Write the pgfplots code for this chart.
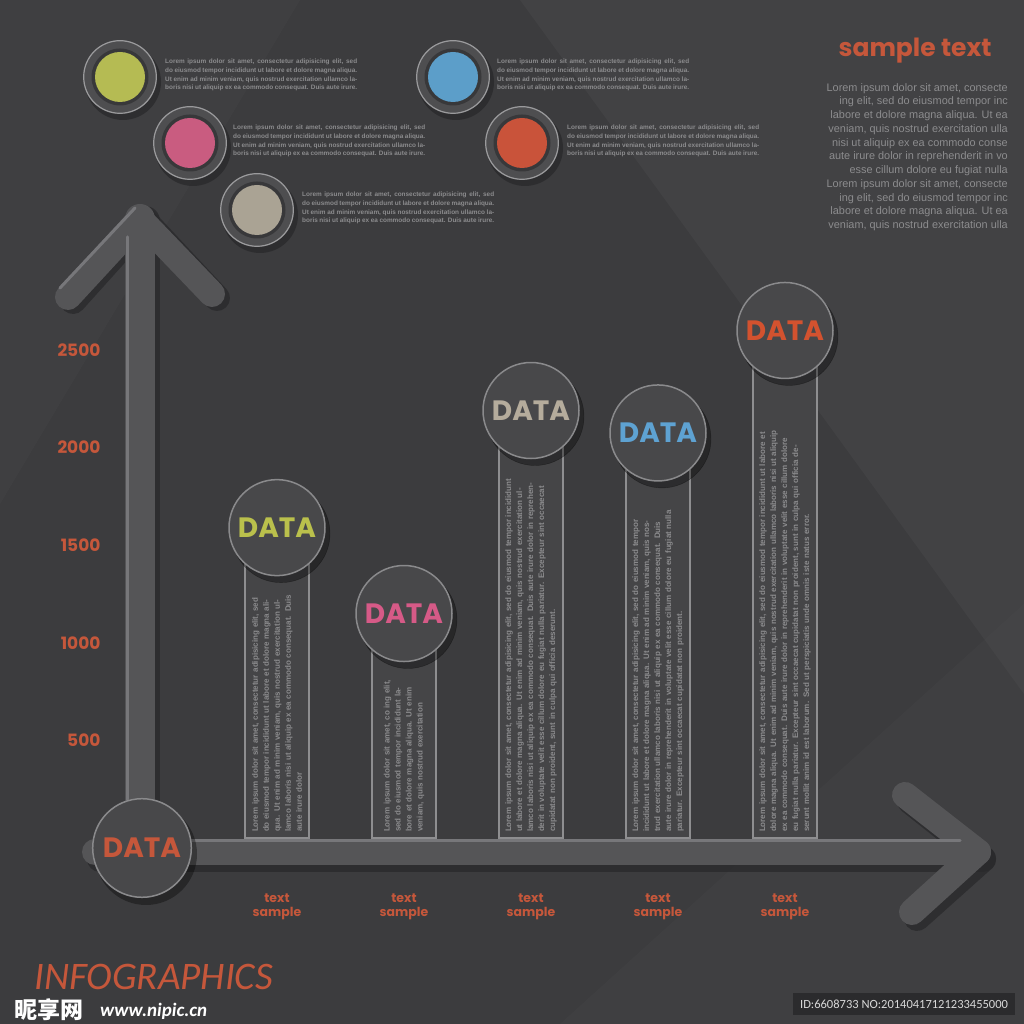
\documentclass[border=0pt]{standalone}
\usepackage{fontspec}
\usepackage{pgfplots}
\pgfplotsset{compat=1.18}
\setmainfont{Liberation Sans}
\newfontfamily\datafont{Poppins}
\newfontfamily\infofont{Carlito}
\newfontfamily\cjk{Noto Sans CJK SC}

\definecolor{bg}{HTML}{3C3C3E}
\definecolor{shadowc}{HTML}{2A2A2C}
\definecolor{armc}{HTML}{555557}
\definecolor{armhi}{HTML}{77777A}
\definecolor{barfill}{HTML}{454547}
\definecolor{barrim}{HTML}{8E8E90}
\definecolor{circfill}{HTML}{48484A}
\definecolor{circrim}{HTML}{8A8A8C}
\definecolor{lorem}{HTML}{8C8C8E}
\definecolor{orangec}{HTML}{C5573B}
\definecolor{cgreen}{HTML}{BAC04C}
\definecolor{cpink}{HTML}{D65A87}
\definecolor{cbeige}{HTML}{B5AC9C}
\definecolor{cblue}{HTML}{5EA2D2}
\definecolor{cred}{HTML}{D3522F}
\definecolor{lgreen}{HTML}{B5BB53}
\definecolor{lpink}{HTML}{C95C80}
\definecolor{lbeige}{HTML}{AAA394}
\definecolor{lblue}{HTML}{5C9EC9}
\definecolor{lred}{HTML}{C9533A}
\definecolor{HTML4e}{HTML}{4E4E50}
\definecolor{HTML9a}{HTML}{9A9A9C}
\definecolor{HTML38}{HTML}{38383A}
\definecolor{HTML2b}{HTML}{2B2B2D}
\definecolor{HTMLd8}{HTML}{D8D8D8}

\newcommand{\legcirc}[3]{%
  \fill[shadowc,opacity=0.8] (#1+3,#2-5) circle (38);
  \fill[HTML4e] (#1,#2) circle (37);
  \draw[HTML9a,line width=1.2pt] (#1,#2) circle (36.3);
  \fill[HTML38] (#1,#2) circle (28.5);
  \fill[#3] (#1,#2) circle (25);
}

\newcommand{\legtext}{Lorem ipsum dolor sit amet, consectetur adipisicing elit, sed do eiusmod tempor incididunt ut labore et dolore magna aliqua. Ut enim ad minim veniam, quis nostrud exercitation ullamco laboris nisi ut aliquip ex ea commodo consequat. Duis aute irure.}

\begin{document}
\begin{tikzpicture}[x=1pt,y=1pt]
\path[use as bounding box] (0,0) rectangle (1024,1024);
\fill[bg] (0,0) rectangle (1024,1024);
\fill[white,opacity=0.03] (520,1024) -- (1024,1024) -- (1024,330) -- cycle;
\fill[white,opacity=0.02] (0,520) -- (0,1024) -- (300,1024) -- cycle;
\fill[white,opacity=0.015] (560,0) -- (1024,0) -- (1024,420) -- cycle;

% legend circles and texts
\legcirc{120}{947}{lgreen}
\legcirc{190}{881}{lpink}
\legcirc{257}{814}{lbeige}
\legcirc{453}{947}{lblue}
\legcirc{522}{881}{lred}
\foreach \lx/\ly in {165/965,233/899,302/832,497/965,567/899}{
  \node[anchor=north west,inner sep=0,text width=192pt,align=justify,text=lorem,
        font=\fontsize{6.4}{8.6}\selectfont\bfseries] at (\lx,\ly) {\legtext};
}

% right paragraph
\node[anchor=center,text=orangec,font=\datafont\bfseries\fontsize{25}{25}\selectfont] at (915,973) {sample text};
\node[anchor=north east,inner sep=0,align=right,text=lorem,
      font=\fontsize{10.9}{13.75}\selectfont] at (1008,941) {%
Lorem ipsum dolor sit amet, consecte\\
ing elit, sed do eiusmod tempor inc\\
labore et dolore magna aliqua. Ut ea\\
veniam, quis nostrud exercitation ulla\\
nisi ut aliquip ex ea commodo conse\\
aute irure dolor in reprehenderit in vo\\
esse cillum dolore eu fugiat nulla\\
Lorem ipsum dolor sit amet, consecte\\
ing elit, sed do eiusmod tempor inc\\
labore et dolore magna aliqua. Ut ea\\
veniam, quis nostrud exercitation ulla};

% axis arrows (shadow, body, highlight)
\begin{scope}[line cap=round,line join=round]
\draw[shadowc,line width=30pt,opacity=0.8] (145,168) -- (145,803);
\draw[shadowc,line width=26pt,opacity=0.8] (73,723) -- (145,803) -- (217,726);
\draw[shadowc,line width=26pt,opacity=0.8] (100,165) -- (983,165);
\draw[shadowc,line width=26pt,opacity=0.8] (910,223) -- (983,165) -- (917,106);
\draw[armc,line width=30pt] (140,174) -- (140,805);
\draw[armc,line width=26pt] (68,727) -- (140,805) -- (212,730);
\draw[armc,line width=26pt] (95,172) -- (978,172);
\draw[armc,line width=26pt] (905,229) -- (978,172) -- (912,112);
\draw[armhi,line width=3pt] (127,180) -- (127,787);
\draw[armhi,line width=3pt] (100,183) -- (960,183);
\draw[armhi,line width=3pt] (60,736) -- (135,816);
\end{scope}

\begin{axis}[
  at={(150pt,186pt)}, anchor=south west,
  scale only axis, width=762pt, height=585.6pt,
  xmin=-1, xmax=5, ymin=0, ymax=3000,
  clip=false,
  axis line style={draw=none},
  major tick length=0pt,
  ytick={500,1000,1500,2000,2500},
  xtick={0,1,2,3,4},
  xticklabels={{text\\sample},{text\\sample},{text\\sample},{text\\sample},{text\\sample}},
  /pgf/number format/assume math mode=true,
  /pgf/number format/1000 sep={},
  yticklabel style={anchor=east,xshift=-46pt,text=orangec,
     font=\datafont\bfseries\fontsize{17}{17}\selectfont},
  xticklabel style={anchor=north,yshift=-52pt,align=center,text=orangec,
     font=\datafont\bfseries\fontsize{12.5}{14}\selectfont},
]
% bars
\addplot[ybar,bar width=64pt,bar shift=0pt,fill=barfill,draw=barrim,line width=1.3pt]
  coordinates {(0,1590) (1,1150) (2,2190) (3,2075) (4,2600)};

% vertical lorem text inside bars
\node[rotate=90,anchor=west,inner sep=0,text width=238pt,align=left,text=lorem,
      font=\fontsize{8}{11}\selectfont\bfseries] at (axis cs:0,30)
  {Lorem ipsum dolor sit amet, consectetur adipisicing elit, sed do eiusmod tempor incididunt ut labore et dolore magna aliqua. Ut enim ad minim veniam, quis nostrud exercitation ullamco laboris nisi ut aliquip ex ea commodo consequat. Duis aute irure dolor};
\node[rotate=90,anchor=west,inner sep=0,text width=158pt,align=left,text=lorem,
      font=\fontsize{8}{11}\selectfont\bfseries] at (axis cs:1,30)
  {Lorem ipsum dolor sit amet, co ing elit, sed do eiusmod tempor incididunt labore et dolore magna aliqua. Ut enim veniam, quis nostrud exercitation};
\node[rotate=90,anchor=west,inner sep=0,text width=355pt,align=left,text=lorem,
      font=\fontsize{8}{11}\selectfont\bfseries] at (axis cs:2,30)
  {Lorem ipsum dolor sit amet, consectetur adipisicing elit, sed do eiusmod tempor incididunt ut labore et dolore magna aliqua. Ut enim ad minim veniam, quis nostrud exercitation ullamco laboris nisi ut aliquip ex ea commodo consequat. Duis aute irure dolor in reprehenderit in voluptate velit esse cillum dolore eu fugiat nulla pariatur. Excepteur sint occaecat cupidatat non proident, sunt in culpa qui officia deserunt.};
\node[rotate=90,anchor=west,inner sep=0,text width=330pt,align=left,text=lorem,
      font=\fontsize{8}{11}\selectfont\bfseries] at (axis cs:3,30)
  {Lorem ipsum dolor sit amet, consectetur adipisicing elit, sed do eiusmod tempor incididunt ut labore et dolore magna aliqua. Ut enim ad minim veniam, quis nostrud exercitation ullamco laboris nisi ut aliquip ex ea commodo consequat. Duis aute irure dolor in reprehenderit in voluptate velit esse cillum dolore eu fugiat nulla pariatur. Excepteur sint occaecat cupidatat non proident.};
\node[rotate=90,anchor=west,inner sep=0,text width=405pt,align=left,text=lorem,
      font=\fontsize{8}{11}\selectfont\bfseries] at (axis cs:4,30)
  {Lorem ipsum dolor sit amet, consectetur adipisicing elit, sed do eiusmod tempor incididunt ut labore et dolore magna aliqua. Ut enim ad minim veniam, quis nostrud exercitation ullamco laboris nisi ut aliquip ex ea commodo consequat. Duis aute irure dolor in reprehenderit in voluptate velit esse cillum dolore eu fugiat nulla pariatur. Excepteur sint occaecat cupidatat non proident, sunt in culpa qui officia deserunt mollit anim id est laborum. Sed ut perspiciatis unde omnis iste natus error.};

% circle shadows and circles
\addplot[only marks,mark=*,mark size=49pt,
  mark options={fill=black,draw=none,opacity=0.35,xshift=4pt,yshift=-6pt}]
  coordinates {(0,1590) (1,1150) (2,2190) (3,2075) (4,2600)};
\addplot[only marks,mark=*,mark size=48pt,
  mark options={fill=circfill,draw=circrim,line width=1.5pt}]
  coordinates {(0,1590) (1,1150) (2,2190) (3,2075) (4,2600)};

% DATA labels
\addplot[draw=none,nodes near coords={DATA},
  every node near coord/.style={anchor=center,text=cgreen,font=\datafont\bfseries\fontsize{28}{28}\selectfont}]
  coordinates {(0,1590)};
\addplot[draw=none,nodes near coords={DATA},
  every node near coord/.style={anchor=center,text=cpink,font=\datafont\bfseries\fontsize{28}{28}\selectfont}]
  coordinates {(1,1150)};
\addplot[draw=none,nodes near coords={DATA},
  every node near coord/.style={anchor=center,text=cbeige,font=\datafont\bfseries\fontsize{28}{28}\selectfont}]
  coordinates {(2,2190)};
\addplot[draw=none,nodes near coords={DATA},
  every node near coord/.style={anchor=center,text=cblue,font=\datafont\bfseries\fontsize{28}{28}\selectfont}]
  coordinates {(3,2075)};
\addplot[draw=none,nodes near coords={DATA},
  every node near coord/.style={anchor=center,text=cred,font=\datafont\bfseries\fontsize{28}{28}\selectfont}]
  coordinates {(4,2600)};
\end{axis}

% origin circle
\fill[black,opacity=0.35] (146,170) circle (51);
\fill[circfill] (142,176) circle (50);
\draw[circrim,line width=1.5pt] (142,176) circle (49.3);
\node[text=orangec,font=\datafont\bfseries\fontsize{28}{28}\selectfont] at (142,176) {DATA};

% title and footer
\node[anchor=west,inner sep=0,text=orangec,font=\infofont\itshape\fontsize{39}{39}\selectfont] at (34,47) {INFOGRAPHICS};
\node[anchor=west,inner sep=0,text=white,font=\cjk\bfseries\fontsize{23}{23}\selectfont] at (14,14) {昵享网};
\node[anchor=west,inner sep=0,text=white,font=\infofont\bfseries\itshape\fontsize{19}{19}\selectfont] at (100,13) {www.nipic.cn};
\fill[HTML2b] (793,9) rectangle (1015,31);
\node[text=HTMLd8,font=\infofont\fontsize{12.5}{12.5}\selectfont] at (904,20) {ID:6608733 NO:20140417121233455000};
\end{tikzpicture}
\end{document}
